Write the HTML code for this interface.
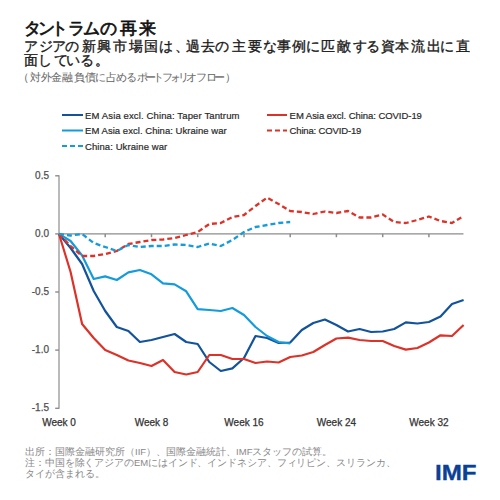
<!DOCTYPE html>
<html lang="ja"><head><meta charset="utf-8">
<style>
html,body{margin:0;padding:0;background:#fff;width:500px;height:500px;overflow:hidden;position:relative;font-family:"Liberation Sans",sans-serif}
.t{position:absolute;white-space:nowrap;line-height:1}
svg{position:absolute;left:0;top:0}
.ax{font-size:10px;fill:#333;stroke:#333;stroke-width:0.25px;font-family:"Liberation Sans",sans-serif}
.ay{fill:#505050;stroke:#505050}
.lg{font-size:9.5px;letter-spacing:0.2px;fill:#2a2a2a;stroke:#2a2a2a;stroke-width:0.2px;font-family:"Liberation Sans",sans-serif}
</style></head><body>
<div class="t" id="title" style="left:0;top:20.48px;font-size:17px;color:#111;font-weight:normal;-webkit-text-stroke:0.7px #111"><span style="position:absolute;left:24.12px">タ</span><span style="position:absolute;left:38.25px">ン</span><span style="position:absolute;left:50.6px">ト</span><span style="position:absolute;left:68.4px">ラ</span><span style="position:absolute;left:82.72px">ム</span><span style="position:absolute;left:100.12px">の</span><span style="position:absolute;left:119.93px">再</span><span style="position:absolute;left:138.65px">来</span></div>
<div class="t" id="l2" style="left:0;top:39.0px;font-size:14.2px;color:#1a1a1a;font-weight:normal;-webkit-text-stroke:0.35px #1a1a1a"><span style="position:absolute;left:24.15px">ア</span><span style="position:absolute;left:38.73px">ジ</span><span style="position:absolute;left:51.75px">ア</span><span style="position:absolute;left:65.07px">の</span><span style="position:absolute;left:82.0px">新</span><span style="position:absolute;left:97.0px">興</span><span style="position:absolute;left:113.2px">市</span><span style="position:absolute;left:128.62px">場</span><span style="position:absolute;left:144.4px">国</span><span style="position:absolute;left:158.68px">は</span><span style="position:absolute;left:174.75px">、</span><span style="position:absolute;left:185.73px">過</span><span style="position:absolute;left:200.9px">去</span><span style="position:absolute;left:214.88px">の</span><span style="position:absolute;left:231.82px">主</span><span style="position:absolute;left:247.9px">要</span><span style="position:absolute;left:263.32px">な</span><span style="position:absolute;left:277.0px">事</span><span style="position:absolute;left:291.58px">例</span><span style="position:absolute;left:305.77px">に</span><span style="position:absolute;left:320.65px">匹</span><span style="position:absolute;left:336.88px">敵</span><span style="position:absolute;left:352.73px">す</span><span style="position:absolute;left:366.4px">る</span><span style="position:absolute;left:380.88px">資</span><span style="position:absolute;left:395.42px">本</span><span style="position:absolute;left:410.77px">流</span><span style="position:absolute;left:426.95px">出</span><span style="position:absolute;left:440.48px">に</span><span style="position:absolute;left:456.3px">直</span></div>
<div class="t" id="l3" style="left:0;top:53.25px;font-size:14.2px;color:#1a1a1a;font-weight:normal;-webkit-text-stroke:0.35px #1a1a1a"><span style="position:absolute;left:24.4px">面</span><span style="position:absolute;left:37.58px">し</span><span style="position:absolute;left:54.05px">て</span><span style="position:absolute;left:66.25px">い</span><span style="position:absolute;left:80.3px">る</span><span style="position:absolute;left:94.55px">。</span></div>
<div class="t" id="sub2" style="left:0;top:71.8px;font-size:10.5px;color:#6a6a6a;font-weight:normal;-webkit-text-stroke:0.05px #6a6a6a"><span style="position:absolute;left:18.43px">（</span><span style="position:absolute;left:29.58px">対</span><span style="position:absolute;left:40.55px">外</span><span style="position:absolute;left:51.47px">金</span><span style="position:absolute;left:62.33px">融</span><span style="position:absolute;left:74.03px">負</span><span style="position:absolute;left:84.88px">債</span><span style="position:absolute;left:95.12px">に</span><span style="position:absolute;left:106.0px">占</span><span style="position:absolute;left:115.78px">め</span><span style="position:absolute;left:125.88px">る</span><span style="position:absolute;left:137.18px">ポ</span><span style="position:absolute;left:145.45px">ー</span><span style="position:absolute;left:152.5px">ト</span><span style="position:absolute;left:162.07px">フ</span><span style="position:absolute;left:170.47px">ォ</span><span style="position:absolute;left:178.12px">リ</span><span style="position:absolute;left:186.1px">オ</span><span style="position:absolute;left:196.48px">フ</span><span style="position:absolute;left:205.65px">ロ</span><span style="position:absolute;left:214.35px">ー</span><span style="position:absolute;left:225.38px">）</span></div>
<svg width="500" height="500" viewBox="0 0 500 500">
<g fill="none" stroke-linejoin="round">
<line x1="62" y1="115" x2="83" y2="115" stroke="#12539b" stroke-width="2"/>
<line x1="62" y1="130.5" x2="83" y2="130.5" stroke="#149bdc" stroke-width="2"/>
<line x1="62" y1="146" x2="83" y2="146" stroke="#149bdc" stroke-width="2" stroke-dasharray="5,3"/>
<line x1="267" y1="115" x2="287" y2="115" stroke="#dc3228" stroke-width="2"/>
<line x1="267" y1="130.5" x2="287" y2="130.5" stroke="#dc3228" stroke-width="2" stroke-dasharray="5,3"/>
</g>
<text x="85" y="118.5" class="lg" textLength="154.7">EM Asia excl. China: Taper Tantrum</text>
<text x="85" y="134" class="lg" textLength="141.9">EM Asia excl. China: Ukraine war</text>
<text x="85" y="149.5" class="lg" textLength="82.4">China: Ukraine war</text>
<text x="289.6" y="118.5" class="lg" textLength="132.5">EM Asia excl. China: COVID-19</text>
<text x="289.6" y="134" class="lg" textLength="71.9">China: COVID-19</text>
<line x1="59.0" y1="175.3" x2="59.0" y2="408.8" stroke="#8c8c8c" stroke-width="1.2"/>
<line x1="59.0" y1="233.9" x2="463.5" y2="233.9" stroke="#8c8c8c" stroke-width="1.2"/>
<line x1="55.2" y1="175.8" x2="59.0" y2="175.8" stroke="#8c8c8c" stroke-width="1.4"/><text x="49" y="178.8" text-anchor="end" class="ax ay">0.5</text><line x1="55.2" y1="233.9" x2="59.0" y2="233.9" stroke="#8c8c8c" stroke-width="1.4"/><text x="49" y="236.9" text-anchor="end" class="ax ay">0.0</text><line x1="55.2" y1="292.0" x2="59.0" y2="292.0" stroke="#8c8c8c" stroke-width="1.4"/><text x="49" y="295.0" text-anchor="end" class="ax ay">-0.5</text><line x1="55.2" y1="350.1" x2="59.0" y2="350.1" stroke="#8c8c8c" stroke-width="1.4"/><text x="49" y="353.1" text-anchor="end" class="ax ay">-1.0</text><line x1="55.2" y1="408.3" x2="59.0" y2="408.3" stroke="#8c8c8c" stroke-width="1.4"/><text x="49" y="411.3" text-anchor="end" class="ax ay">-1.5</text><line x1="105.2" y1="233.9" x2="105.2" y2="237.2" stroke="#8c8c8c" stroke-width="1.5"/><line x1="151.5" y1="233.9" x2="151.5" y2="237.2" stroke="#8c8c8c" stroke-width="1.5"/><line x1="197.7" y1="233.9" x2="197.7" y2="237.2" stroke="#8c8c8c" stroke-width="1.5"/><line x1="244.0" y1="233.9" x2="244.0" y2="237.2" stroke="#8c8c8c" stroke-width="1.5"/><line x1="290.2" y1="233.9" x2="290.2" y2="237.2" stroke="#8c8c8c" stroke-width="1.5"/><line x1="336.4" y1="233.9" x2="336.4" y2="237.2" stroke="#8c8c8c" stroke-width="1.5"/><line x1="382.7" y1="233.9" x2="382.7" y2="237.2" stroke="#8c8c8c" stroke-width="1.5"/><line x1="428.9" y1="233.9" x2="428.9" y2="237.2" stroke="#8c8c8c" stroke-width="1.5"/><text x="59.0" y="425.5" text-anchor="middle" class="ax">Week 0</text><text x="151.5" y="425.5" text-anchor="middle" class="ax">Week 8</text><text x="244.0" y="425.5" text-anchor="middle" class="ax">Week 16</text><text x="336.4" y="425.5" text-anchor="middle" class="ax">Week 24</text><text x="428.9" y="425.5" text-anchor="middle" class="ax">Week 32</text>
<g fill="none" stroke-linejoin="round" stroke-width="2.2">
<polyline points="59.0,234 70.6,248 82.1,264 93.7,291 105.2,311 116.8,327 128.4,331 139.9,342 151.5,340 163.0,337 174.6,334 186.2,342 197.7,344 209.3,362 220.8,371 232.4,368.4 244.0,358 255.5,336 267.1,338 278.6,343 290.2,342.5 301.8,330 313.3,323 324.9,319.5 336.4,325 348.0,331.5 359.6,329 371.1,332 382.7,331.5 394.2,329 405.8,322.4 417.4,323.5 428.9,322 440.5,316.5 452.0,304 463.6,300" stroke="#12539b"/>
<polyline points="59.0,234 70.6,272 82.1,324 93.7,338 105.2,350 116.8,355 128.4,360.5 139.9,363 151.5,366 163.0,360 174.6,372 186.2,374.5 197.7,372 209.3,355 220.8,355 232.4,359 244.0,359 255.5,363 267.1,361.5 278.6,362.5 290.2,357 301.8,355.5 313.3,352 324.9,345 336.4,338.5 348.0,337.6 359.6,340 371.1,341 382.7,341 394.2,346 405.8,349.6 417.4,348 428.9,342.5 440.5,335.3 452.0,336 463.6,325" stroke="#dc3228"/>
<polyline points="59.0,234 70.6,241 82.1,255.5 93.7,279 105.2,276.4 116.8,280 128.4,272.4 139.9,270 151.5,274.3 163.0,283.3 174.6,284.4 186.2,291.3 197.7,309.2 209.3,310 220.8,311 232.4,308 244.0,315 255.5,327 267.1,336 278.6,342 290.2,343.5" stroke="#149bdc"/>
<polyline points="59.0,234 70.6,246 82.1,256 93.7,256 105.2,254 116.8,251 128.4,244 139.9,242 151.5,240 163.0,239.5 174.6,238 186.2,235 197.7,232 209.3,224 220.8,223 232.4,217 244.0,215 255.5,206 267.1,197.6 278.6,204 290.2,211 301.8,212 313.3,214 324.9,211.5 336.4,213 348.0,211 359.6,217.5 371.1,217.5 382.7,214.5 394.2,222 405.8,223 417.4,220 428.9,216.5 440.5,221 452.0,223 463.6,216" stroke="#dc3228" stroke-dasharray="5,3" stroke-width="2.3"/>
<polyline points="59.0,234 70.6,235.5 82.1,234 93.7,243 105.2,247 116.8,251 128.4,245 139.9,247 151.5,246 163.0,246 174.6,244.5 186.2,245 197.7,247 209.3,243.5 220.8,246 232.4,240 244.0,232 255.5,227 267.1,225 278.6,223 290.2,222" stroke="#149bdc" stroke-dasharray="5,3" stroke-width="2.3"/>
</g>
</svg>
<div class="t" id="f1" style="left:25px;top:446.5px;font-size:9.5px;letter-spacing:0px;color:#888;font-weight:normal;-webkit-text-stroke:0px #888">出所：国際金融研究所（IIF）、国際金融統計、IMFスタッフの試算。</div>
<div class="t" id="f2" style="left:25px;top:457.5px;font-size:9.5px;letter-spacing:-0.1px;color:#888;font-weight:normal;-webkit-text-stroke:0px #888">注：中国を除くアジアのEMにはインド、インドネシア、フィリピン、スリランカ、</div>
<div class="t" id="f3" style="left:25px;top:469.09999999999997px;font-size:9.5px;letter-spacing:0px;color:#888;font-weight:normal;-webkit-text-stroke:0px #888">タイが含まれる。</div>
<div id="imf" class="t" style="left:435px;top:463.3px;font-size:21.5px;font-weight:bold;color:#0a4196;letter-spacing:0px;transform:scaleX(1.125);transform-origin:0 0;-webkit-text-stroke:0.3px #0a4196">IMF</div>
</body></html>
